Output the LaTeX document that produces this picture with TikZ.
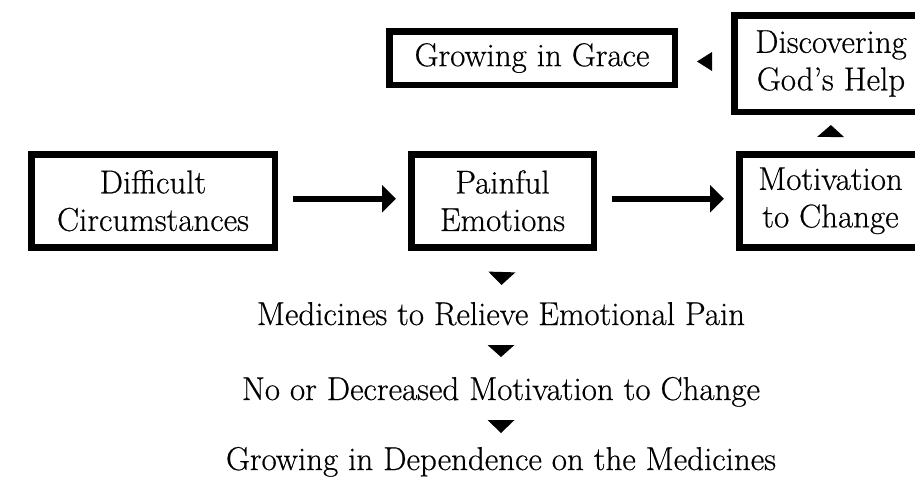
\documentclass[tikz,border=0pt]{standalone}
\usepackage{fontspec}
\setmainfont{Latin Modern Roman}[FakeBold=0.5]
\usetikzlibrary{arrows.meta,decorations.markings}
\begin{document}
\begin{tikzpicture}[x=1pt,y=-1pt,
  box/.style={draw=black, line width=6.5pt, rectangle, align=center,
    font=\fontsize{33}{37.5}\selectfont, inner sep=0pt},
  txt/.style={font=\fontsize{33}{37.5}\selectfont, inner sep=0pt, outer sep=0pt,
    anchor=base, text height=23pt, text depth=0pt},
  flow/.style={line width=6pt, -{Triangle[length=14pt,width=27pt]},
    shorten <=15pt, shorten >=12pt},
  tri/.style n args={3}{postaction={decorate}, decoration={markings,
    mark=at position #1 with {\fill[black] (#2pt,0pt) -- (-#2pt,#3pt) -- (-#2pt,-#3pt) -- cycle;}}}
]
\useasboundingbox (0,0) rectangle (915,477);

% boxes
\node[box, minimum width=243.5pt, minimum height=93pt] (dc) at (153,200.75) {Difficult\\Circumstances};
\node[box, minimum width=182.5pt, minimum height=93pt] (pe) at (502.5,200.75) {Painful\\Emotions};
\node[box, minimum width=182.5pt, minimum height=93pt] (mc) at (830.5,200.75) {Motivation\\to Change};
\node[box, minimum width=285.5pt, minimum height=53.5pt] (gg) at (532,58) {Growing in Grace};
\node[box, minimum width=193.5pt, minimum height=96.5pt] (dg) at (831,63.5) {Discovering\\God's Help};

% bottom texts
\node[txt] (med) at (501,325) {Medicines to Relieve Emotional Pain};
\node[txt] (nod) at (501,400) {No or Decreased Motivation to Change};
\node[txt] (gdm) at (501,470) {Growing in Dependence on the Medicines};

% arrows
\draw[flow] ([yshift=2pt]dc.east) -- ([yshift=2pt]pe.west);
\draw[flow] ([yshift=2pt]pe.east) -- ([yshift=2pt]mc.west);

% triangle connectors
\path[tri={28pt}{6.5}{13.5}] (pe.south) -- (med.north);
\path[tri={26pt}{6}{13.5}] (med.south) -- (nod.north);
\path[tri={26.5pt}{6.5}{13.5}] (nod.south) -- (gdm.north);
\path[tri={20pt}{6}{13.5}] (mc.north) -- (dg.south);
\coordinate (lt) at ([yshift=2pt]dg.west);
\path[tri={26.5pt}{7.5}{9.5}] (lt) -- (lt -| gg.east);
\end{tikzpicture}
\end{document}
